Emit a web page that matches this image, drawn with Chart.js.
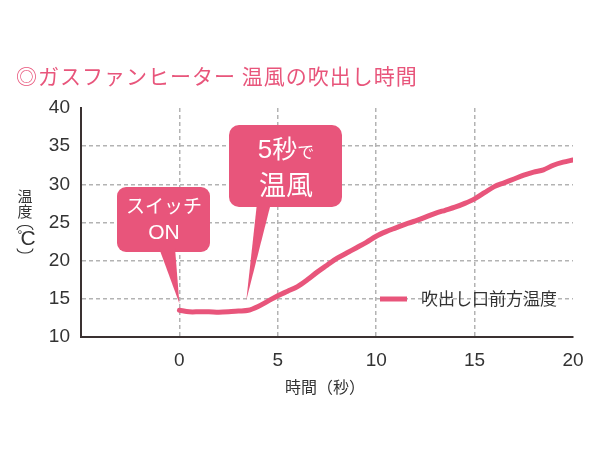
<!DOCTYPE html>
<html><head><meta charset="utf-8">
<script src="https://cdn.jsdelivr.net/npm/chart.js@4/dist/chart.umd.min.js"></script>
<style>html,body{margin:0;padding:0;background:#fff;}#wrap{width:600px;height:462px;position:relative;}</style>
</head><body><div id="wrap"><canvas id="c" width="600" height="462"></canvas></div>
<script>
const title = '◎ガスファンヒーター 温風の吹出し時間';
const seriesLabel = '吹出し口前方温度';
const xTitle = '時間（秒）';
const yTitleChars = ['温', '度', '°', 'C'];
const timeSec = [0,0.5,1,1.5,2,2.5,3,3.5,4,4.5,5,5.5,6,6.5,7,7.5,8,8.5,9,9.5,10,10.5,11,11.5,12,12.5,13,13.5,14,14.5,15,15.5,16,16.5,17,17.5,18,18.5,19,19.5,20];
const tempC = [13.5,13.3,13.3,13.3,13.25,13.3,13.4,13.5,14.0,14.7,15.4,16.0,16.6,17.5,18.5,19.4,20.3,21.0,21.7,22.4,23.2,23.8,24.3,24.8,25.2,25.7,26.2,26.6,27.0,27.5,28.1,28.9,29.7,30.2,30.7,31.2,31.6,31.9,32.5,32.9,33.2];
const callout1Lines = ['スイッチ', 'ON'];
const callout2Lines = ['5秒で', '温風'];
const xTicks = [0,5,10,15,20];

const PINK = '#e8557b';
const JP = '"Noto Sans CJK JP", "Noto Sans", sans-serif';
const NUM = '"Liberation Sans", Arial, sans-serif';

const points = timeSec.map((t,i)=>({x:t,y:tempC[i]}));

const overlay = {
  id:'overlay',
  afterDatasetsDraw(chart){
    const ctx = chart.ctx;
    const xs = chart.scales.x, ys = chart.scales.y;
    ctx.save();
    // callout 1
    ctx.fillStyle = PINK;
    ctx.beginPath();
    ctx.roundRect(117,187,93,65,9);
    ctx.fill();
    ctx.beginPath();
    ctx.moveTo(159,248); ctx.lineTo(175,248);
    ctx.lineTo(xs.getPixelForValue(0), ys.getPixelForValue(14.4));
    ctx.closePath(); ctx.fill();
    // callout 2
    ctx.beginPath();
    ctx.roundRect(229,125,113,82,10);
    ctx.fill();
    ctx.beginPath();
    ctx.moveTo(257,203); ctx.lineTo(271,203);
    ctx.lineTo(xs.getPixelForValue(3.4), ys.getPixelForValue(14.8));
    ctx.closePath(); ctx.fill();

    ctx.fillStyle = '#fff';
    ctx.textAlign = 'center'; ctx.textBaseline = 'middle';
    ctx.font = '19px ' + JP;
    ctx.fillText(callout1Lines[0], 164, 206);
    ctx.font = '21px ' + NUM;
    ctx.fillText(callout1Lines[1], 164, 233);
    // 5秒で
    const l = callout2Lines[0];
    ctx.textAlign = 'left'; ctx.textBaseline = 'alphabetic';
    ctx.font = '26px ' + NUM;
    const w5 = ctx.measureText(l[0]).width;
    ctx.font = '25px ' + JP;
    const wS = ctx.measureText(l[1]).width;
    ctx.font = '17px ' + JP;
    const wD = ctx.measureText(l[2]).width;
    let sx = 286 - (w5+wS+wD)/2;
    ctx.font = '26px ' + NUM; ctx.fillText(l[0], sx, 158); sx += w5;
    ctx.font = '25px ' + JP; ctx.fillText(l[1], sx, 158); sx += wS;
    ctx.font = '17px ' + JP; ctx.fillText(l[2], sx, 158);
    ctx.textAlign = 'center'; ctx.textBaseline = 'middle';
    ctx.font = '27px ' + JP;
    ctx.fillText(callout2Lines[1], 286, 185);

    // legend
    ctx.strokeStyle = PINK; ctx.lineWidth = 5;
    ctx.beginPath(); ctx.moveTo(380,299); ctx.lineTo(407,299); ctx.stroke();
    ctx.fillStyle = '#333'; ctx.textAlign = 'left';
    ctx.font = '17px ' + JP;
    ctx.fillText(seriesLabel, 421, 299);
    ctx.restore();
  },
  afterDraw(chart){
    const ctx = chart.ctx;
    ctx.save();
    ctx.fillStyle = PINK;
    ctx.textAlign = 'left'; ctx.textBaseline = 'middle';
    ctx.font = '21px ' + JP;
    ctx.letterSpacing = '1px';
    ctx.fillText(title, 16, 76);
    ctx.letterSpacing = '0px';
    ctx.fillStyle = '#333';
    ctx.textAlign = 'center';
    ctx.font = '16px ' + JP;
    ctx.fillText(xTitle, 325, 387);
    // vertical y-axis title 温度（℃）
    ctx.font = '15px ' + JP;
    ctx.fillText(yTitleChars[0], 25, 196);
    ctx.fillText(yTitleChars[1], 25, 211);
    ctx.font = '12px ' + NUM;
    ctx.fillText(yTitleChars[2], 20, 236);
    ctx.font = '21px ' + NUM;
    ctx.fillText(yTitleChars[3], 28, 239);
    ctx.strokeStyle = '#333'; ctx.lineWidth = 1.1;
    ctx.beginPath(); ctx.ellipse(25, 230, 8, 4.5, 0, Math.PI, 2*Math.PI); ctx.stroke();
    ctx.beginPath(); ctx.ellipse(25, 248.5, 8, 4.5, 0, 0, Math.PI); ctx.stroke();
    ctx.restore();
  }
};

new Chart(document.getElementById('c'), {
  type:'line',
  data:{datasets:[{label:seriesLabel,data:points,borderColor:PINK,borderWidth:5,pointRadius:0,tension:0.3,fill:false,borderCapStyle:'round',borderJoinStyle:'round'}]},
  options:{
    responsive:false, animation:false, devicePixelRatio:1,
    layout:{padding:{top:108,right:27,left:0,bottom:0}},
    plugins:{legend:{display:false},title:{display:false},tooltip:{enabled:false}},
    scales:{
      x:{type:'linear',min:-5,max:20,
        afterBuildTicks(s){ s.ticks = [-5].concat(xTicks).map(v=>({value:v})); },
        afterFit(s){ s.height = 125; },
        ticks:{padding:12,color:'#333',font:{family:NUM,size:19},maxRotation:0,
          callback:(v)=> v<0 ? '' : String(v)},
        grid:{drawTicks:false,lineWidth:1.5,
          color:(c)=> (c.tick && (c.tick.value===-5 || c.tick.value===20)) ? 'rgba(0,0,0,0)' : '#b3b3b3'},
        border:{display:true,color:'#3a3131',width:2,dash:[4,3]}
      },
      y:{min:10,max:40,
        afterFit(s){ s.width = 81; },
        ticks:{stepSize:5,padding:11,color:'#333',font:{family:NUM,size:19}},
        grid:{drawTicks:false,lineWidth:1.5,
          color:(c)=> (c.tick && (c.tick.value===10 || c.tick.value===40)) ? 'rgba(0,0,0,0)' : '#b3b3b3'},
        border:{display:true,color:'#3a3131',width:2,dash:[4,3]}
      }
    }
  },
  plugins:[overlay]
});
</script></body></html>
